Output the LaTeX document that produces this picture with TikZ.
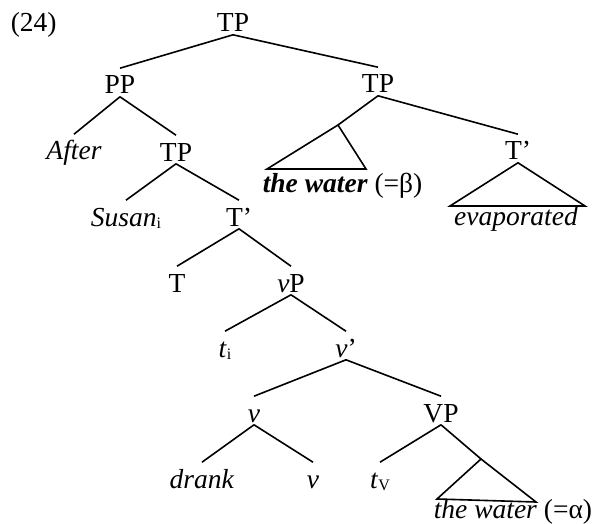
\documentclass[tikz,border=0pt]{standalone}
\usepackage{fontspec}
\setmainfont{Liberation Serif}
\newcommand{\lo}[1]{\raisebox{-2pt}{\fontsize{16}{16}\selectfont #1}}

\begin{document}
\begin{tikzpicture}[x=1pt, y=-1pt, line width=1.6pt,
    lbl/.style={anchor=base, inner xsep=0pt, inner ysep=2pt, text height=23pt,
      text depth=0pt, font=\fontsize{27.5}{33}\selectfont}]
  \useasboundingbox (0,0) rectangle (597,524);

  % Labels
  \node[lbl, anchor=base west] (num) at (10,32) {(24)};
  \node[lbl] (tpA) at (233,32) {TP};
  \node[lbl] (ppA) at (120,94) {PP};
  \node[lbl] (tpB) at (378,93) {TP};
  \node[lbl] (aft) at (74,160) {\textit{After}};
  \node[lbl] (tpC) at (176,161) {TP};
  \node[lbl, anchor=base west] (wtrB) at (262,192) {\textbf{\textit{the water}} (=β)};
  \node[lbl] (tbA) at (518,160) {T'};
  \node[lbl] (evp) at (516,225) {\textit{evaporated}};
  \node[lbl] (sus) at (126,226) {\textit{Susan}\lo{i}};
  \node[lbl] (tbB) at (239,226) {T'};
  \node[lbl] (tT) at (177,292) {T};
  \node[lbl] (vP) at (291,292) {\textit{v}P};
  \node[lbl] (ti) at (225,357) {\textit{t}\lo{i}};
  \node[lbl] (vbar) at (346,357) {\textit{v}'};
  \node[lbl] (vA) at (254,422) {\textit{v}};
  \node[lbl] (VP) at (441,422) {VP};
  \node[lbl] (drk) at (202,488) {\textit{drank}};
  \node[lbl] (vB) at (313,488) {\textit{v}};
  \node[lbl] (tV) at (380,488) {\textit{t}\lo{V}};
  \node[lbl, anchor=base west] (wtrA) at (433,518) {\textit{the water} (=α)};

  % Branches
  \coordinate (apxB) at (338,125);
  \coordinate (apxA) at (481,459);
  \draw (tpA.south) -- (ppA.north);
  \draw (tpA.south) -- (tpB.north);
  \draw (ppA.south) -- (aft.north);
  \draw (ppA.south) -- (tpC.north);
  \draw (tpB.south) -- (apxB);
  \draw (tpB.south) -- (tbA.north);
  \draw (tpC.south) -- (sus.north);
  \draw (tpC.south) -- (tbB.north);
  \draw (tbB.south) -- (tT.north);
  \draw (tbB.south) -- (vP.north);
  \draw (vP.south) -- (ti.north);
  \draw (vP.south) -- (vbar.north);
  \draw (vbar.south) -- (vA.north);
  \draw (vbar.south) -- (VP.north);
  \draw (vA.south) -- (drk.north);
  \draw (vA.south) -- (vB.north);
  \draw (VP.south) -- (tV.north);
  \draw (VP.south) -- (apxA);

  % Triangles
  \draw (apxB) -- (267,169) -- (366,169) -- cycle;
  \draw (tbA.south) -- (450,206) -- (585,206) -- cycle;
  \draw (apxA) -- (437,499) -- (536,502) -- cycle;
\end{tikzpicture}
\end{document}
